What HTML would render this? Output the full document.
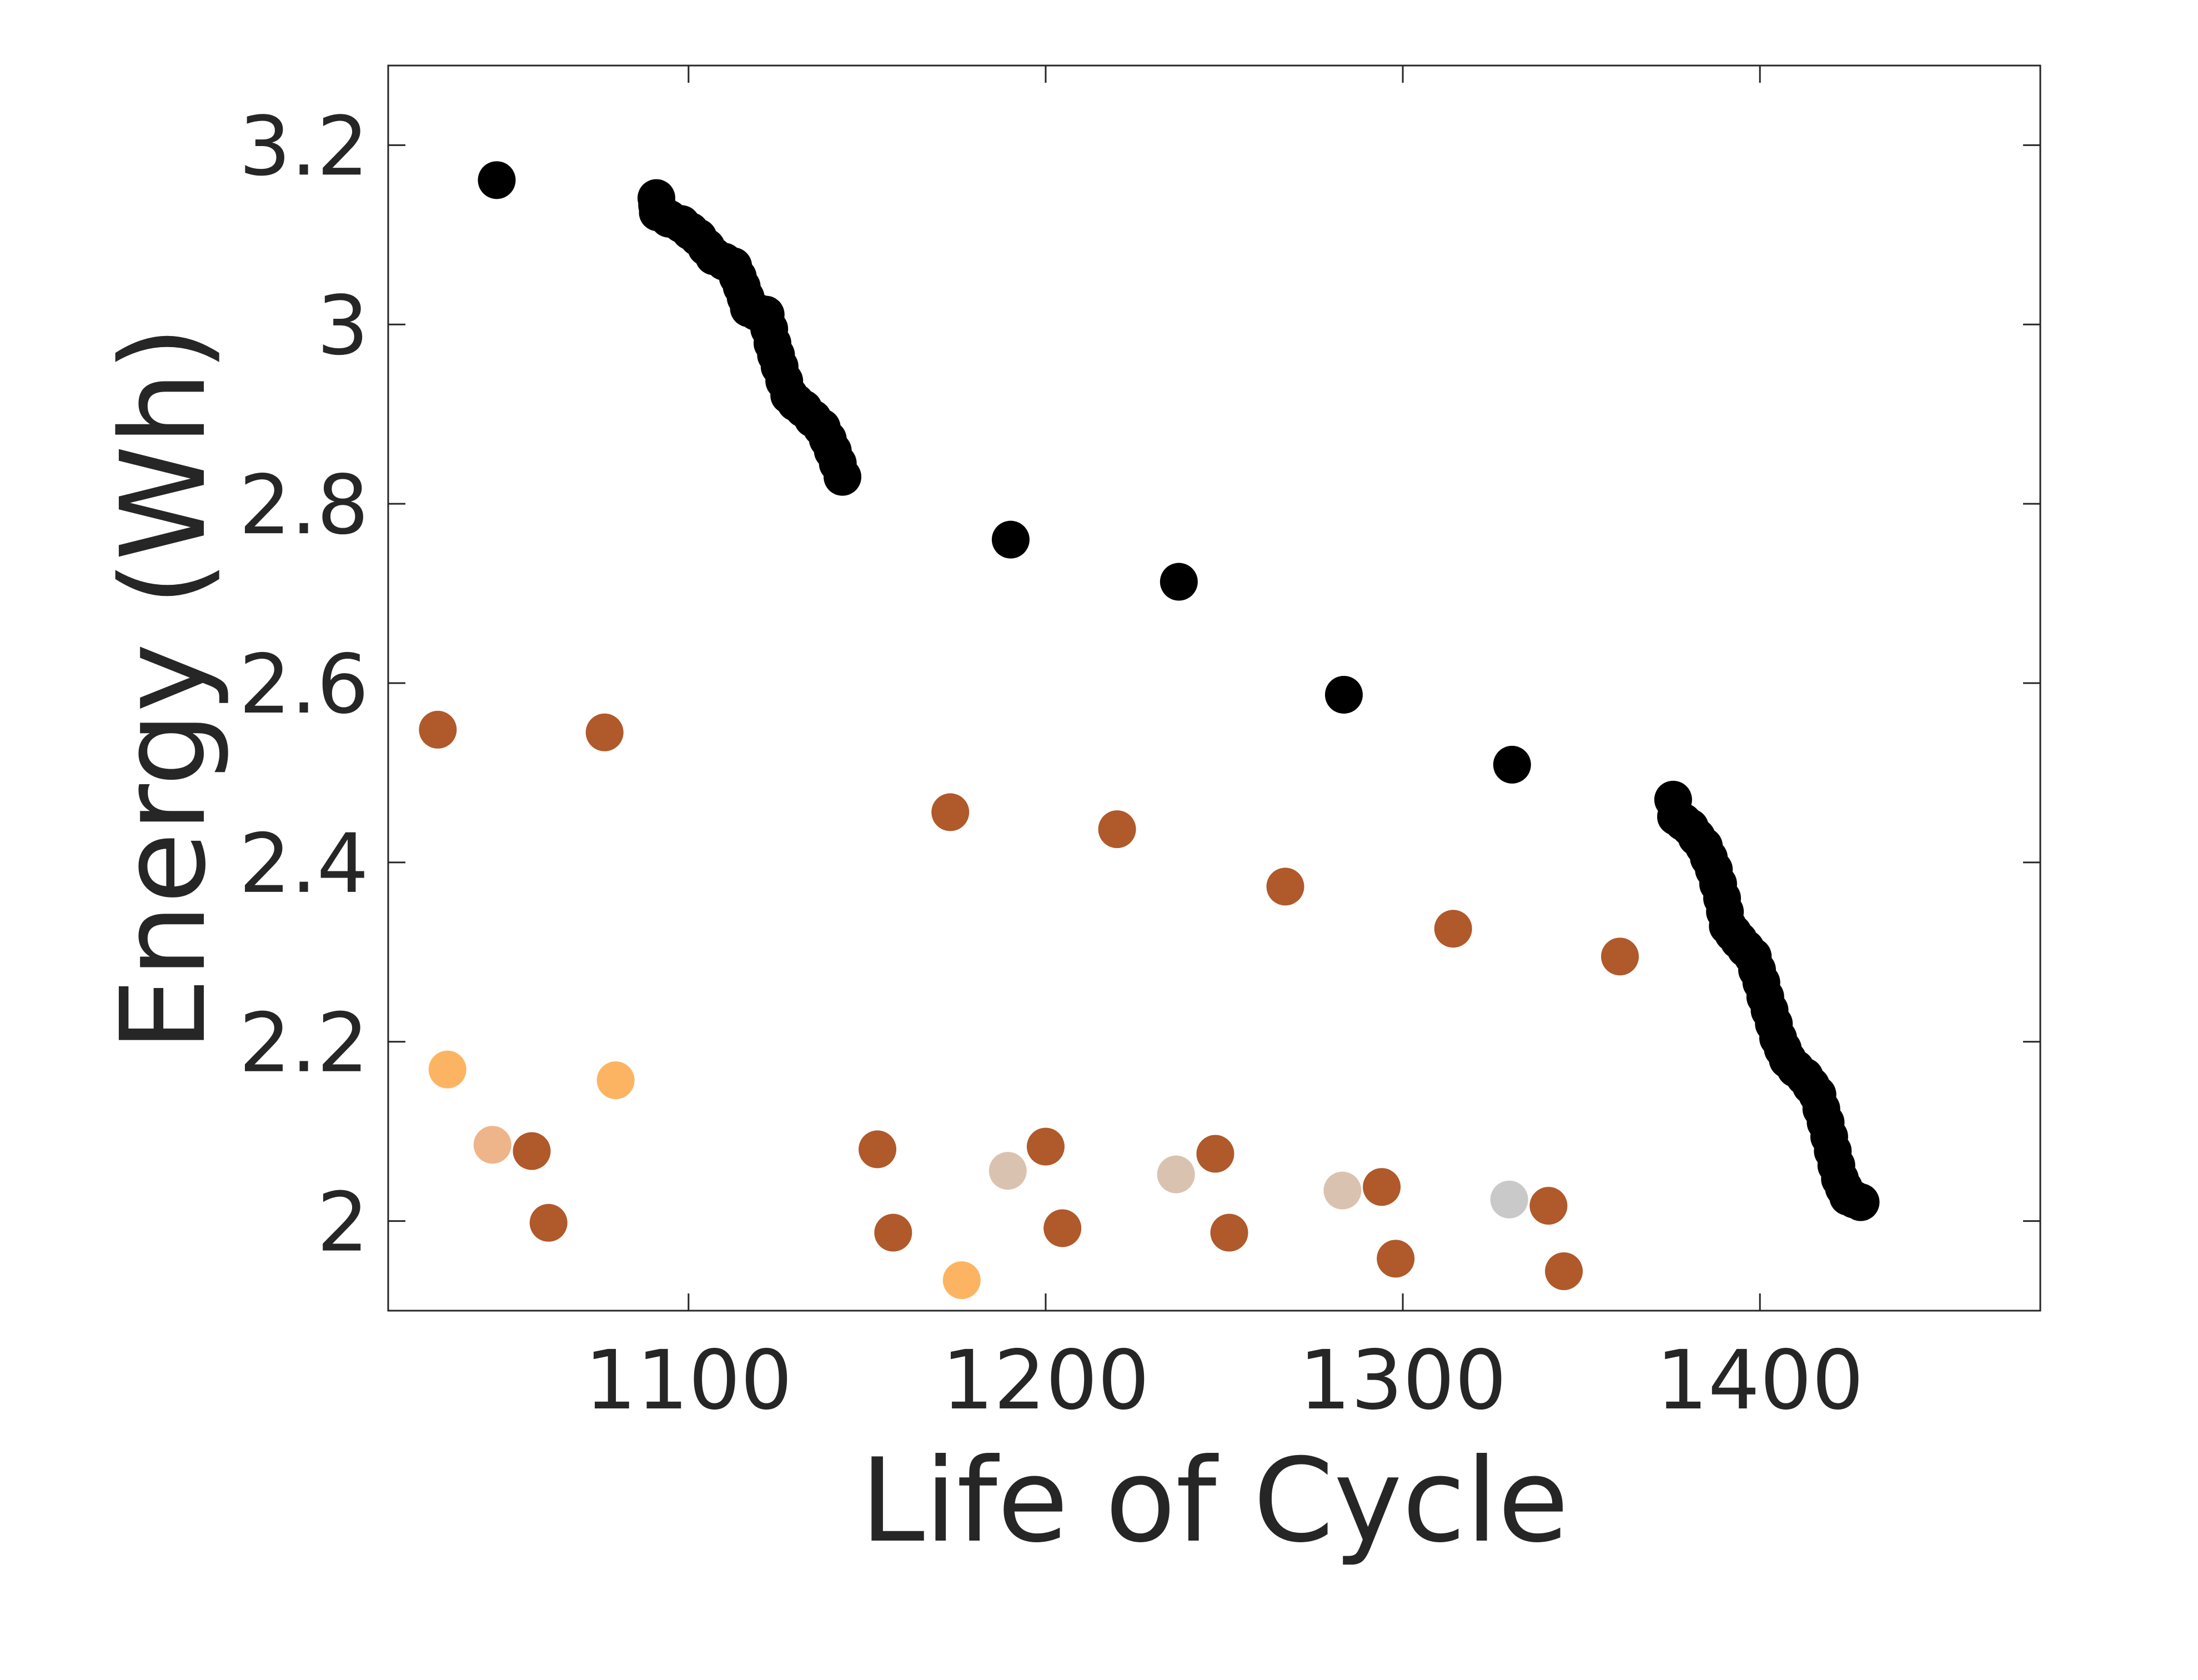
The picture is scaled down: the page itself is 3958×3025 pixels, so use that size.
<!DOCTYPE html>
<html><head><meta charset="utf-8">
<style>
html,body{margin:0;padding:0;background:#fff;}
svg{display:block;}
text{font-family:"DejaVu Sans","Liberation Sans",sans-serif;fill:#262626;}
</style></head>
<body>
<svg id="chart" width="3958" height="3025" viewBox="0 0 3958 3025" xmlns="http://www.w3.org/2000/svg">
<rect x="0" y="0" width="3958" height="3025" fill="#fff"/>
<g id="marks"></g>
<g id="axes"></g>
<text x="2187" y="2774" font-size="208" text-anchor="middle">Life of Cycle</text>
<text x="0" y="0" font-size="210" text-anchor="middle" transform="translate(367,1240) rotate(-90)">Energy (Wh)</text>
</svg>
<script>
// ---- data ----
const blackX = [1046.3,
  1091.0,1091.2,1091.4,1094.5,1098.0,1100.5,1102.7,1105.0,1107.1,1110.0,1112.5,1113.8,1114.9,1116.0,1116.9,1119.0,1121.6,1122.6,1123.5,1124.5,1125.5,1126.8,1128.2,1130.0,1132.2,1134.8,1137.3,1139.0,1140.4,1141.8,1143.1,
  1190.2,1237.3,1283.5,1330.6,
  1375.7,1376.5,1378.5,1380.4,1382.3,1384.3,1385.7,1387.1,1388.3,1389.4,1390.2,1391.0,1392.5,1394.1,1396.0,1398.0,1399.2,1400.4,1401.5,1402.7,1403.9,1405.1,1406.4,1407.8,1410.0,1412.5,1414.3,1416.1,1417.2,1418.4,1419.4,1420.4,1421.4,1422.4,1423.5,1424.7,1426.4,1428.2];
const blackY = [3.161,
  3.141,3.133,3.125,3.118,3.112,3.104,3.097,3.086,3.076,3.070,3.065,3.053,3.042,3.030,3.018,3.014,3.011,2.995,2.979,2.966,2.953,2.937,2.921,2.913,2.906,2.895,2.885,2.872,2.859,2.845,2.830,
  2.760,2.713,2.587,2.509,
  2.470,2.451,2.445,2.439,2.428,2.418,2.405,2.392,2.376,2.360,2.345,2.329,2.321,2.313,2.304,2.295,2.280,2.266,2.250,2.235,2.220,2.204,2.192,2.180,2.170,2.161,2.151,2.141,2.125,2.110,2.094,2.078,2.062,2.047,2.037,2.027,2.024,2.021];
const brownX = [1029.8,1076.5,1173.3,1220.0,1267.1,1314.1,1360.8,1056.1,1060.8,1152.9,1157.3,1200.0,1204.7,1247.5,1251.4,1294.1,1298.0,1340.8,1345.1];
const brownY = [2.548,2.545,2.456,2.437,2.373,2.326,2.295,2.078,1.998,2.080,1.987,2.083,1.992,2.075,1.987,2.038,1.958,2.017,1.944];
const orangeX = [1032.5,1079.6,1176.5];
const orangeY = [2.169,2.157,1.934];
const peachX = [1045.1];
const peachY = [2.085];
const beigeX = [1189.4,1236.5,1283.1];
const beigeY = [2.056,2.052,2.034];
const greyX = [1329.8];
const greyY = [2.024];
const xTicks = [1100,1200,1300,1400];
const xTickLabels = ["1100","1200","1300","1400"];
const yTicks = [2,2.2,2.4,2.6,2.8,3,3.2];
const yTickLabels = ["2","2.2","2.4","2.6","2.8","3","3.2"];

// ---- axes functions ----
const L=699, R=3674, T=118, B=2360;
const xMin=1015.9, xMax=1478.5, yMin=1.9, yMax=3.2888;
function sx(v){return L+(v-xMin)/(xMax-xMin)*(R-L);}
function sy(v){return B-(v-yMin)/(yMax-yMin)*(B-T);}
const NS="http://www.w3.org/2000/svg";
const marks=document.getElementById('marks');
const axes=document.getElementById('axes');

function drawSeries(xs,ys,color,name){
  for(let i=0;i<xs.length;i++){
    const c=document.createElementNS(NS,'circle');
    c.setAttribute('cx',sx(xs[i]));c.setAttribute('cy',sy(ys[i]));
    c.setAttribute('r',34);c.setAttribute('fill',color);
    
    
    marks.appendChild(c);
  }
}
drawSeries(brownX,brownY,'#b0592a','brown');
drawSeries(orangeX,orangeY,'#fdb462','orange');
drawSeries(peachX,peachY,'#efb58a','peach');
drawSeries(beigeX,beigeY,'#d9c3b0','beige');
drawSeries(greyX,greyY,'#c9c9c9','grey');
drawSeries(blackX,blackY,'#000000','black');

function line(x1,y1,x2,y2,name){
  const l=document.createElementNS(NS,'line');
  l.setAttribute('x1',x1);l.setAttribute('y1',y1);l.setAttribute('x2',x2);l.setAttribute('y2',y2);
  l.setAttribute('stroke','#262626');l.setAttribute('stroke-width',3);
  
  
  axes.appendChild(l);
}
const box=document.createElementNS(NS,'rect');
box.setAttribute('x',L);box.setAttribute('y',T);box.setAttribute('width',R-L);box.setAttribute('height',B-T);
box.setAttribute('fill','none');box.setAttribute('stroke','#262626');box.setAttribute('stroke-width',3);


axes.appendChild(box);

const tl=31;
xTicks.forEach((v,i)=>{
  const x=sx(v);
  line(x,B,x,B-tl,'x-tick');
  line(x,T,x,T+tl,'x-tick-top');
  const t=document.createElementNS(NS,'text');
  t.setAttribute('x',x);t.setAttribute('y',2536);t.setAttribute('font-size',147);t.setAttribute('text-anchor','middle');
  t.textContent=xTickLabels[i];
  
  
  axes.appendChild(t);
});
yTicks.forEach((v,i)=>{
  const y=sy(v);
  line(L,y,L+tl,y,'y-tick');
  line(R,y,R-tl,y,'y-tick-right');
  const t=document.createElementNS(NS,'text');
  t.setAttribute('x',664);t.setAttribute('y',y+53);t.setAttribute('font-size',147);t.setAttribute('text-anchor','end');
  t.textContent=yTickLabels[i];
  
  
  axes.appendChild(t);
});
</script>
</body></html>
